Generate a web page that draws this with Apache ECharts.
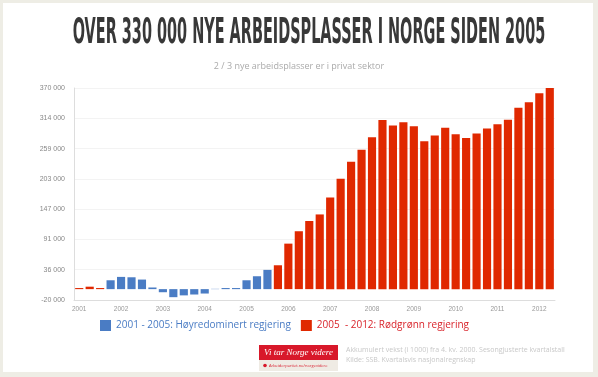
<!DOCTYPE html>
<html>
<head>
<meta charset="utf-8">
<script src="https://cdn.jsdelivr.net/npm/echarts@6/dist/echarts.min.js"></script>
<style>
  html, body { margin: 0; padding: 0; background: #eeede5; }
  #chart { width: 598px; height: 377px; }
</style>
</head>
<body>
<div id="chart"></div>
<script>
// kvartaler, 4. kv. 2000 = 0
var kvartaler = [
    '2001 K1', '2001 K2', '2001 K3', '2001 K4',
    '2002 K1', '2002 K2', '2002 K3', '2002 K4',
    '2003 K1', '2003 K2', '2003 K3', '2003 K4',
    '2004 K1', '2004 K2', '2004 K3', '2004 K4',
    '2005 K1', '2005 K2', '2005 K3', '2005 K4',
    '2006 K1', '2006 K2', '2006 K3', '2006 K4',
    '2007 K1', '2007 K2', '2007 K3', '2007 K4',
    '2008 K1', '2008 K2', '2008 K3', '2008 K4',
    '2009 K1', '2009 K2', '2009 K3', '2009 K4',
    '2010 K1', '2010 K2', '2010 K3', '2010 K4',
    '2011 K1', '2011 K2', '2011 K3', '2011 K4',
    '2012 K1', '2012 K2'
];

// akkumulert vekst, hoyreregjering (blå)
var hoyreVerdier = [
    null, null, null, 16300,
    22500, 21800, 17600, 3000,
    -5700, -14800, -11500, -9900,
    -8100, 500, 2000, 2000,
    16300, 23700, 35400, null,
    null, null, null, null,
    null, null, null, null,
    null, null, null, null,
    null, null, null, null,
    null, null, null, null,
    null, null, null, null,
    null, null
];

// akkumulert vekst, rodgronn regjering (rød) - inkl. starten av 2001
var rodgronnVerdier = [
    2000, 4500, 2000, null,
    null, null, null, null,
    null, null, null, null,
    null, null, null, null,
    null, null, null, 43900,
    83700, 106500, 125300, 137400,
    168600, 203000, 234100, 256200,
    279500, 311200, 300800, 307000,
    299700, 272100, 282400, 297100,
    285000, 278200, 286100, 295300,
    303300, 311800, 333800, 343600,
    360500, 370000
];

var serieNavn = ['2001 - 2005: Høyredominert regjering', '2005  - 2012: Rødgrønn regjering'];
var yMin = -20000;
var yMax = 370000;

var blaa = '#4a7cc4';
var roed = '#e02800';

var chart = echarts.init(document.getElementById('chart'));

var option = {
    backgroundColor: '#eeede5',
    animation: false,
    graphic: [
        {
            type: 'rect', z: -10,
            shape: { x: 3, y: 3, width: 590, height: 369 },
            style: { fill: '#ffffff' }
        },
        {
            type: 'text', x: 309, y: 34, scaleX: 0.446,
            style: {
                text: 'OVER 330 000 NYE ARBEIDSPLASSER I NORGE SIDEN 2005',
                font: 'bold 36px "Liberation Sans Narrow", "DejaVu Sans Condensed", sans-serif',
                fill: '#383838', textAlign: 'center', textVerticalAlign: 'middle'
            }
        },
        {
            type: 'text', x: 299, y: 66,
            style: {
                text: '2 / 3 nye arbeidsplasser er i privat sektor',
                font: '9px "Open Sans", sans-serif',
                fill: '#aaaaaa', textAlign: 'center', textVerticalAlign: 'middle'
            }
        },
        // logo-boks
        {
            type: 'rect',
            shape: { x: 259, y: 345, width: 79, height: 15 },
            style: { fill: '#d8182a' }
        },
        {
            type: 'text', x: 298.5, y: 353,
            style: {
                text: 'Vi tar Norge videre',
                font: 'italic 9px "Liberation Serif", serif',
                fill: '#ffffff', textAlign: 'center', textVerticalAlign: 'middle'
            }
        },
        {
            type: 'rect',
            shape: { x: 259, y: 360, width: 79, height: 11 },
            style: { fill: '#efebe4' }
        },
        {
            type: 'circle',
            shape: { cx: 265, cy: 365.5, r: 1.8 },
            style: { fill: '#d8182a' }
        },
        {
            type: 'text', x: 269, y: 365.5,
            style: {
                text: 'Arbeiderpartiet.no/norgevidere',
                font: '4px "Open Sans", sans-serif',
                fill: '#d8182a', textVerticalAlign: 'middle'
            }
        },
        {
            type: 'text', x: 346, y: 350,
            style: {
                text: 'Akkumulert vekst (i 1000) fra 4. kv. 2000. Sesongjusterte kvartalstall',
                font: '7px "Open Sans", sans-serif',
                fill: '#c8c8c8', textVerticalAlign: 'middle'
            }
        },
        {
            type: 'text', x: 346, y: 359.5,
            style: {
                text: 'Kilde: SSB. Kvartalsvis nasjonalregnskap',
                font: '7px "Open Sans", sans-serif',
                fill: '#c8c8c8', textVerticalAlign: 'middle'
            }
        }
    ],
    legend: {
        left: 95,
        top: 315,
        itemWidth: 11,
        itemHeight: 11,
        itemGap: 10,
        icon: 'rect',
        textStyle: { fontFamily: 'Open Sans', fontSize: 10 },
        data: [
            { name: serieNavn[0], textStyle: { color: blaa } },
            { name: serieNavn[1], textStyle: { color: '#d9242b' } }
        ]
    },
    grid: {
        left: 74,
        right: 43,
        top: 88,
        bottom: 77,
        containLabel: false
    },
    xAxis: {
        type: 'category',
        data: kvartaler,
        axisLine: { onZero: false, lineStyle: { color: '#dddddd' } },
        axisTick: { show: false },
        axisLabel: {
            interval: 3,
            fontSize: 6.5,
            color: '#999999',
            fontFamily: 'Liberation Sans',
            margin: 6,
            formatter: function (v) { return v.split(' ')[0]; }
        }
    },
    yAxis: {
        type: 'value',
        min: yMin,
        max: yMax,
        interval: (yMax - yMin) / 7,
        axisLine: { show: true, lineStyle: { color: '#dddddd' } },
        axisTick: { show: false },
        splitLine: { lineStyle: { color: '#f3f3f3' } },
        axisLabel: {
            fontSize: 7,
            color: '#888888',
            fontFamily: 'Liberation Sans',
            margin: 9,
            formatter: function (v) {
                var t = Math.round(v / 1000);
                return t + ' 000';
            }
        }
    },
    series: [
        {
            name: serieNavn[0],
            type: 'bar',
            barGap: '-100%',
            barCategoryGap: '22%',
            itemStyle: { color: blaa },
            data: hoyreVerdier
        },
        {
            name: serieNavn[1],
            type: 'bar',
            barGap: '-100%',
            barCategoryGap: '22%',
            itemStyle: { color: roed },
            data: rodgronnVerdier
        }
    ]
};

chart.setOption(option);
</script>
</body>
</html>
